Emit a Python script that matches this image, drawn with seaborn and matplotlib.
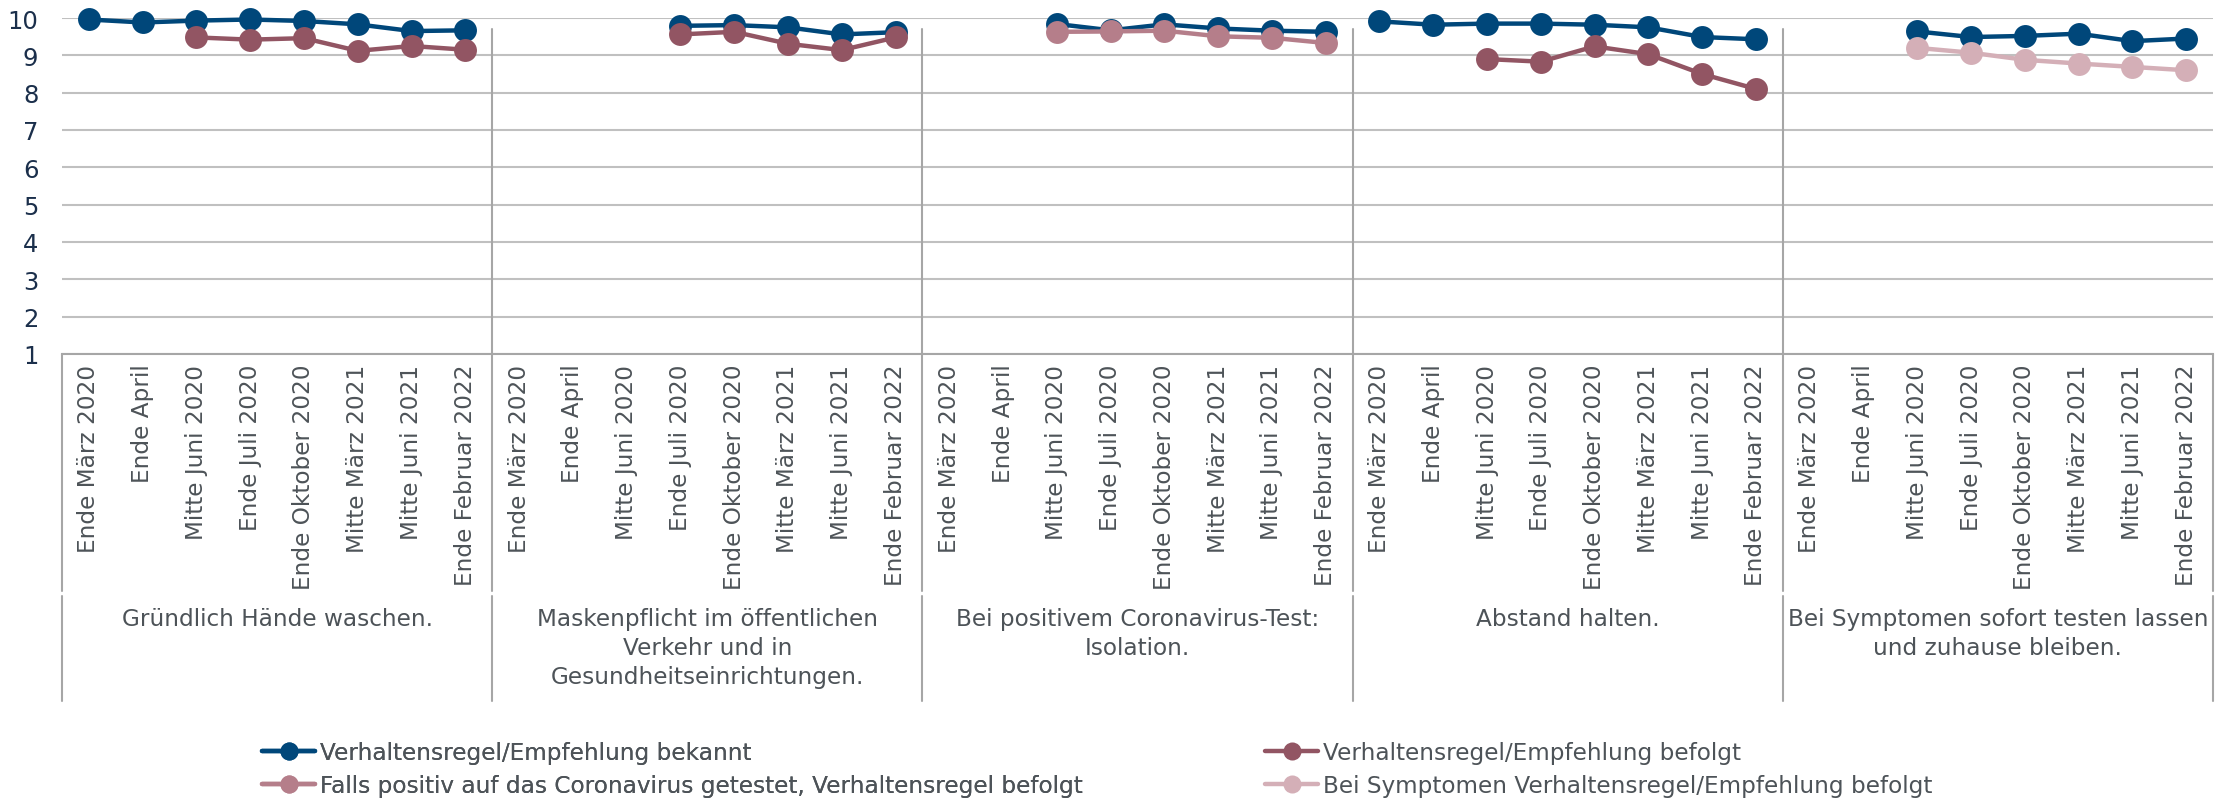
import numpy as np
import pandas as pd
import matplotlib
matplotlib.use("Agg")
import matplotlib.pyplot as plt
from matplotlib.lines import Line2D
import seaborn as sns

# ---------------- data ----------------
time_labels = ["Ende März 2020", "Ende April", "Mitte Juni 2020", "Ende Juli 2020",
               "Ende Oktober 2020", "Mitte März 2021", "Mitte Juni 2021", "Ende Februar 2022"]
categories = ["Gründlich Hände waschen.",
              "Maskenpflicht im öffentlichen\nVerkehr und in\nGesundheitseinrichtungen.",
              "Bei positivem Coronavirus-Test:\nIsolation.",
              "Abstand halten.",
              "Bei Symptomen sofort testen lassen\nund zuhause bleiben."]
series_names = ["Verhaltensregel/Empfehlung bekannt",
                "Verhaltensregel/Empfehlung befolgt",
                "Falls positiv auf das Coronavirus getestet, Verhaltensregel befolgt",
                "Bei Symptomen Verhaltensregel/Empfehlung befolgt"]
nan = np.nan
bekannt = [
    [9.96, 9.88, 9.93, 9.96, 9.92, 9.83, 9.65, 9.67],
    [nan, nan, nan, 9.79, 9.81, 9.75, 9.56, 9.62],
    [nan, nan, 9.84, 9.67, 9.83, 9.72, 9.66, 9.63],
    [9.91, 9.82, 9.85, 9.85, 9.82, 9.75, 9.49, 9.43],
    [nan, nan, 9.64, 9.49, 9.52, 9.58, 9.38, 9.45],
]
befolgt = [
    [nan, nan, 9.48, 9.42, 9.46, 9.12, 9.25, 9.15],
    [nan, nan, nan, 9.56, 9.63, 9.31, 9.14, 9.48],
    [nan] * 8,
    [nan, nan, 8.90, 8.83, 9.24, 9.03, 8.50, 8.10],
    [nan] * 8,
]
falls_positiv = [
    [nan] * 8,
    [nan] * 8,
    [nan, nan, 9.63, 9.64, 9.66, 9.51, 9.47, 9.33],
    [nan] * 8,
    [nan] * 8,
]
symptome = [
    [nan] * 8,
    [nan] * 8,
    [nan] * 8,
    [nan] * 8,
    [nan, nan, 9.20, 9.07, 8.88, 8.78, 8.69, 8.60],
]
colors = ["#00477A", "#925563", "#B57E8A", "#D4AFB7"]

# ---------------- long table ----------------
rows = []
for sname, sdata in zip(series_names, [bekannt, befolgt, falls_positiv, symptome]):
    for g, vals in enumerate(sdata):
        for i, v in enumerate(vals):
            if not np.isnan(v):
                rows.append({"x": g * 8 + i, "value": v, "series": sname, "group": g})
df = pd.DataFrame(rows)

# ---------------- figure ----------------
sns.set_style("white")
plt.rcParams["font.family"] = ["DejaVu Sans"]
W, H = 2236, 803
fig = plt.figure(figsize=(W / 100, H / 100), dpi=100)
left_px, right_px, top_px, bot_px = 62, 2213, 19, 355
ax = fig.add_axes([left_px / W, 1 - bot_px / H, (right_px - left_px) / W, (bot_px - top_px) / H])

sns.lineplot(data=df, x="x", y="value", hue="series", hue_order=series_names,
             palette=colors, units="group", estimator=None, marker="o",
             markersize=16.5, markeredgewidth=0, linewidth=3.2, ax=ax, legend=False)
for ln in ax.lines:
    ln.set_clip_on(False)

n = 40
ax.set_xlim(-0.5, n - 0.5)
ax.set_ylim(1, 10)
ax.set_yticks(range(1, 11))
ax.set_xticks(range(n))
ax.set_xticklabels(time_labels * 5, rotation=90)
ax.set_xlabel("")
ax.set_ylabel("")
txt_col = "#4D5358"
ax.tick_params(axis="x", length=0, pad=7, labelsize=16.7, labelcolor=txt_col)
ax.tick_params(axis="y", length=0, pad=17, labelsize=17.5, labelcolor="#1B2F4B")
ax.yaxis.grid(True, color="#C0C0C0", linewidth=1.5)
ax.xaxis.grid(False)
for s in ["top", "right", "left"]:
    ax.spines[s].set_visible(False)
ax.spines["bottom"].set_color("#A6A6A6")
ax.spines["bottom"].set_linewidth(1.5)

tr = ax.get_xaxis_transform()
ph = bot_px - top_px
def ay(px):
    return (bot_px - px) / ph

sep_col = "#A6A6A6"
for k in range(6):
    xs = 8 * k - 0.5
    ax.plot([xs, xs], [0, ay(592)], transform=tr, color=sep_col, lw=1.5, clip_on=False)
    ax.plot([xs, xs], [ay(597), ay(702)], transform=tr, color=sep_col, lw=1.5, clip_on=False)
    if 0 < k < 5:
        ax.plot([xs, xs], [0, ay(30)], transform=tr, color=sep_col, lw=1.5, clip_on=False)

for g, cat in enumerate(categories):
    ax.text(8 * g + 3.5, ay(608), cat, transform=tr, ha="center", va="top",
            fontsize=16.7, color=txt_col, linespacing=1.32, clip_on=False)

# ---------------- legend ----------------
handles = [Line2D([], [], color=c, marker="o", markersize=13, lw=3.2, markeredgewidth=0) for c in colors]
common = dict(loc="upper left", frameon=False, handlelength=2.3, handletextpad=0.2,
              labelspacing=0.45, fontsize=16.7, labelcolor=txt_col, borderpad=0, borderaxespad=0)
leg1 = fig.legend([handles[0], handles[2]], [series_names[0], series_names[2]],
                  bbox_to_anchor=(262 / W, 1 - 742 / H), **common)
fig.add_artist(leg1)
fig.legend([handles[1], handles[3]], [series_names[1], series_names[3]],
           bbox_to_anchor=(1265 / W, 1 - 742 / H), **common)

fig.savefig("out.png", dpi=100)
